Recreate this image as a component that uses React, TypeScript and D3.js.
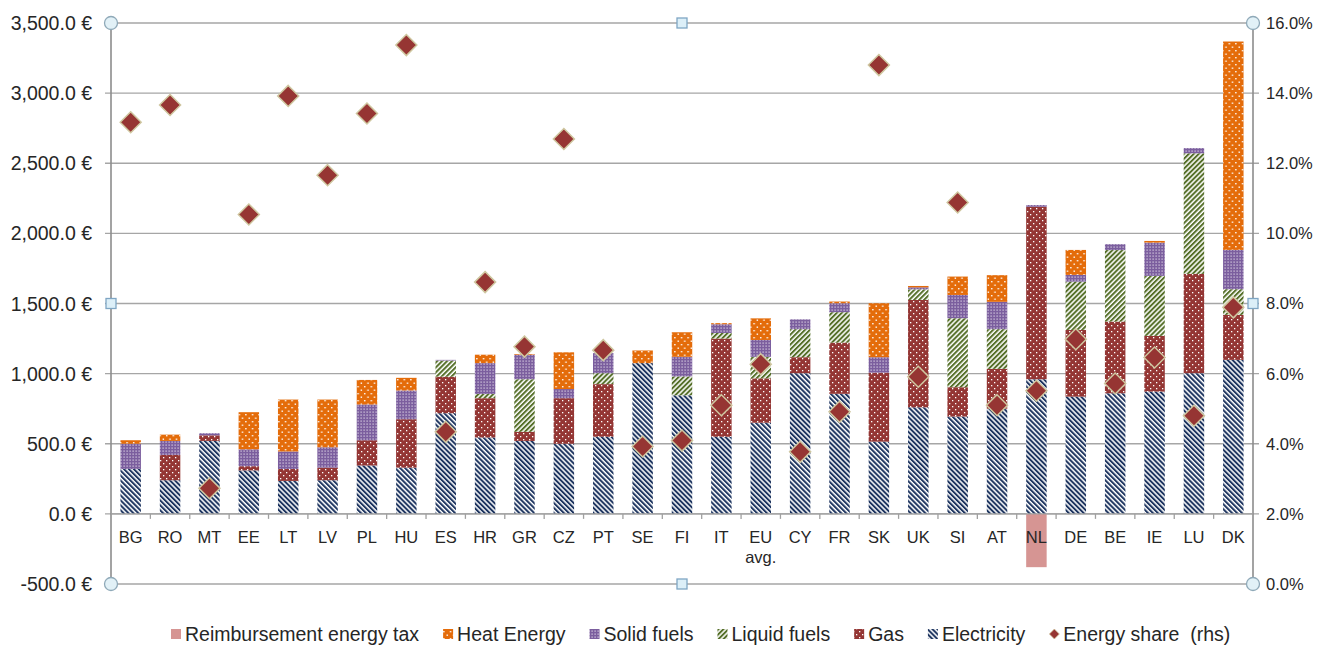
import React, { useEffect, useRef } from "react";
import * as d3 from "d3";

const categories = ["BG","RO","MT","EE","LT","LV","PL","HU","ES","HR","GR","CZ","PT","SE","FI","IT","EU avg.","CY","FR","SK","UK","SI","AT","NL","DE","BE","IE","LU","DK"];
const electricity = [320,240,520,310,235,240,345,330,718,545,520,500,550,1075,845,550,650,1003,856,515,760,694,750,960,836,860,872,1003,1098];
const gas = [0,180,40,30,85,90,180,345,260,280,65,325,375,0,0,700,316,114,365,492,765,209,284,1230,475,511,397,708,321];
const liquidFuels = [0,0,0,0,0,0,0,0,115,30,375,0,78,0,135,40,154,200,217,0,76,492,283,0,345,510,428,860,183];
const solidFuels = [180,100,15,120,125,145,255,205,5,220,175,65,143,0,140,62,120,70,64,110,14,166,195,12,48,42,237,37,280];
const heatEnergy = [25,45,0,265,370,340,175,90,0,60,5,262,0,90,175,8,154,0,12,385,10,131,190,0,178,0,12,0,1486];
const reimbursement = [0,0,0,0,0,0,0,0,0,0,0,0,0,0,0,0,0,0,0,0,0,0,0,-380,0,0,0,0,0];
const energyShare = [13.17,13.66,2.73,10.54,13.92,11.66,13.42,15.37,4.34,8.61,6.77,12.69,6.67,3.92,4.09,5.10,6.27,3.77,4.91,14.80,5.91,10.88,5.10,5.51,6.98,5.72,6.46,4.80,7.89];
const leftTicks = [-500,0,500,1000,1500,2000,2500,3000,3500];
const rightTicks = [0,2,4,6,8,10,12,14,16];

const seriesKeys = ["reimbursement","electricity","gas","liquid","solid","heat"];
const seriesFill: Record<string,string> = {
  reimbursement: "#D69593",
  electricity: "url(#pElec)",
  gas: "url(#pGas)",
  liquid: "url(#pLiq)",
  solid: "url(#pSolid)",
  heat: "url(#pHeat)",
};
const legendItems = [
  { key: "reimbursement", label: "Reimbursement energy tax" },
  { key: "heat", label: "Heat Energy" },
  { key: "solid", label: "Solid fuels" },
  { key: "liquid", label: "Liquid fuels" },
  { key: "gas", label: "Gas" },
  { key: "electricity", label: "Electricity" },
  { key: "share", label: "Energy share  (rhs)" },
];

const W = 1334, H = 646;
const X0 = 111, X1 = 1253, Y0 = 23, Y1 = 584;

export default function App() {
  const ref = useRef<SVGSVGElement | null>(null);
  useEffect(() => {
    const svg = d3.select(ref.current);
    svg.selectAll("*").remove();
    const font = "'Liberation Sans', Arial, sans-serif";
    const txt = "#262626";

    const defs = svg.append("defs");
    const stripe = (id: string, color: string, angle: number, period: number, thick: number) => {
      const p = defs.append("pattern").attr("id", id).attr("patternUnits", "userSpaceOnUse")
        .attr("width", period).attr("height", period).attr("patternTransform", `rotate(${angle})`);
      p.append("rect").attr("width", period).attr("height", period).attr("fill", "#fff");
      p.append("rect").attr("width", thick).attr("height", period).attr("fill", color);
    };
    stripe("pElec", "#1E3560", -45, 3.5, 2.0);
    stripe("pLiq", "#56702A", 45, 3.5, 2.0);
    const dots = (id: string, bg: string, w: number, h: number, pts: number[][], s: number, op = 1) => {
      const p = defs.append("pattern").attr("id", id).attr("patternUnits", "userSpaceOnUse")
        .attr("width", w).attr("height", h);
      p.append("rect").attr("width", w).attr("height", h).attr("fill", bg);
      pts.forEach(([x, y]) => p.append("rect").attr("x", x).attr("y", y).attr("width", s).attr("height", s).attr("fill", "#fff").attr("opacity", op));
    };
    dots("pHeat", "#E46C0A", 6.6, 7, [[1, 1], [4.3, 4.5]], 1.4);
    dots("pGas", "#943634", 6, 6, [[1, 1], [4, 4]], 1.3);
    dots("pSolid", "#7B5E9E", 3, 3, [[0.5, 0.5]], 1.2, 0.75);

    const x = d3.scaleBand<string>().domain(categories).range([X0, X1]).paddingInner(0.48).paddingOuter(0.24);
    const y = d3.scaleLinear().domain([-500, 3500]).range([Y1, Y0]);
    const yr = d3.scaleLinear().domain([0, 16]).range([Y1, Y0]);

    const g = svg.append("g");
    g.selectAll("line.grid").data(leftTicks).join("line")
      .attr("x1", X0 - 6).attr("x2", X1 + 6)
      .attr("y1", d => y(d)).attr("y2", d => y(d))
      .attr("stroke", "#A6A6A6").attr("stroke-width", 1.4);
    g.append("line").attr("x1", X0).attr("x2", X0).attr("y1", Y0).attr("y2", Y1).attr("stroke", "#8C8C8C").attr("stroke-width", 1.6);
    g.append("line").attr("x1", X1).attr("x2", X1).attr("y1", Y0).attr("y2", Y1).attr("stroke", "#8C8C8C").attr("stroke-width", 1.6);

    const rows = categories.map((c, i) => ({
      cat: c,
      reimbursement: reimbursement[i],
      electricity: electricity[i],
      gas: gas[i],
      liquid: liquidFuels[i],
      solid: solidFuels[i],
      heat: heatEnergy[i],
    }));
    const stacked = d3.stack<any>().keys(seriesKeys).offset(d3.stackOffsetDiverging)(rows);
    svg.append("g").selectAll("g").data(stacked).join("g")
      .attr("fill", d => seriesFill[d.key])
      .selectAll("rect").data(d => d.filter(s => s[1] !== s[0])).join("rect")
      .attr("x", d => x(d.data.cat)!)
      .attr("width", x.bandwidth())
      .attr("y", d => y(Math.max(d[0], d[1])))
      .attr("height", d => Math.abs(y(d[0]) - y(d[1])));

    const zy = y(0);
    const step = x.step();
    svg.append("line").attr("x1", X0).attr("x2", X1).attr("y1", zy).attr("y2", zy).attr("stroke", "#A0A0A0").attr("stroke-width", 1.4);
    svg.append("g").selectAll("line").data(d3.range(1, categories.length)).join("line")
      .attr("x1", i => X0 + i * step).attr("x2", i => X0 + i * step)
      .attr("y1", zy).attr("y2", zy + 5).attr("stroke", "#A0A0A0").attr("stroke-width", 1.3);

    const cl = svg.append("g").attr("font-family", font).attr("font-size", 16.5).attr("fill", txt).attr("text-anchor", "middle");
    categories.forEach(c => {
      const cx = x(c)! + x.bandwidth() / 2;
      c.split(" ").forEach((p, k) => {
        cl.append("text").attr("x", cx).attr("y", 543 + k * 20).text(p);
      });
    });

    const fmt = d3.format(",.1f");
    svg.append("g").attr("font-family", font).attr("font-size", 19.5).attr("fill", txt).attr("text-anchor", "end")
      .selectAll("text").data(leftTicks).join("text")
      .attr("x", 92).attr("y", d => y(d)).attr("dy", "0.36em")
      .text(d => `${fmt(d).replace("\u2212", "-")} €`);
    svg.append("g").attr("font-family", font).attr("font-size", 16.5).attr("fill", txt).attr("text-anchor", "start")
      .selectAll("text").data(rightTicks).join("text")
      .attr("x", 1266).attr("y", d => yr(d)).attr("dy", "0.36em")
      .text(d => `${d.toFixed(1)}%`);

    const diamond = (r: number) => `M0,${-r}L${r},0L0,${r}L${-r},0Z`;
    svg.append("g").selectAll("path").data(energyShare).join("path")
      .attr("d", diamond(10.5))
      .attr("transform", (d, i) => `translate(${x(categories[i])! + x.bandwidth() / 2},${yr(d)})`)
      .attr("fill", "#963533").attr("stroke", "#CFC7A0").attr("stroke-width", 1.5);

    const hs = svg.append("g");
    const corners = [[X0, Y0], [X1, Y0], [X0, Y1], [X1, Y1]];
    hs.selectAll("circle").data(corners).join("circle")
      .attr("cx", d => d[0]).attr("cy", d => d[1]).attr("r", 6.5)
      .attr("fill", "#E2F1F7").attr("stroke", "#8FA9B8").attr("stroke-width", 1.3);
    const mids = [[(X0 + X1) / 2, Y0], [X0, (Y0 + Y1) / 2], [X1, (Y0 + Y1) / 2], [(X0 + X1) / 2, Y1]];
    hs.selectAll("rect").data(mids).join("rect")
      .attr("x", d => d[0] - 5).attr("y", d => d[1] - 5).attr("width", 10).attr("height", 10)
      .attr("fill", "#DCEFF8").attr("stroke", "#7FA6C4").attr("stroke-width", 1.3);

    const lg = svg.append("g").attr("font-family", font).attr("font-size", 19.5).attr("fill", txt);
    let cx = 171;
    const ly = 634;
    legendItems.forEach(item => {
      if (item.key === "share") {
        lg.append("path").attr("d", diamond(5)).attr("transform", `translate(${cx + 5},${ly})`)
          .attr("fill", "#963533").attr("stroke", "#CFC7A0").attr("stroke-width", 0.8);
      } else {
        lg.append("rect").attr("x", cx).attr("y", ly - 5).attr("width", 10).attr("height", 10)
          .attr("fill", seriesFill[item.key]);
      }
      const t = lg.append("text").attr("x", cx + 14).attr("y", ly).attr("dy", "0.36em")
        .attr("xml:space", "preserve").style("white-space", "pre").text(item.label);
      const w = (t.node() as SVGTextElement).getComputedTextLength();
      cx = cx + 14 + w + 24;
    });
  }, []);
  return (
    <svg ref={ref} width={W} height={H} style={{ position: "absolute", left: 0, top: 0, display: "block", background: "#fff" }} />
  );
}
